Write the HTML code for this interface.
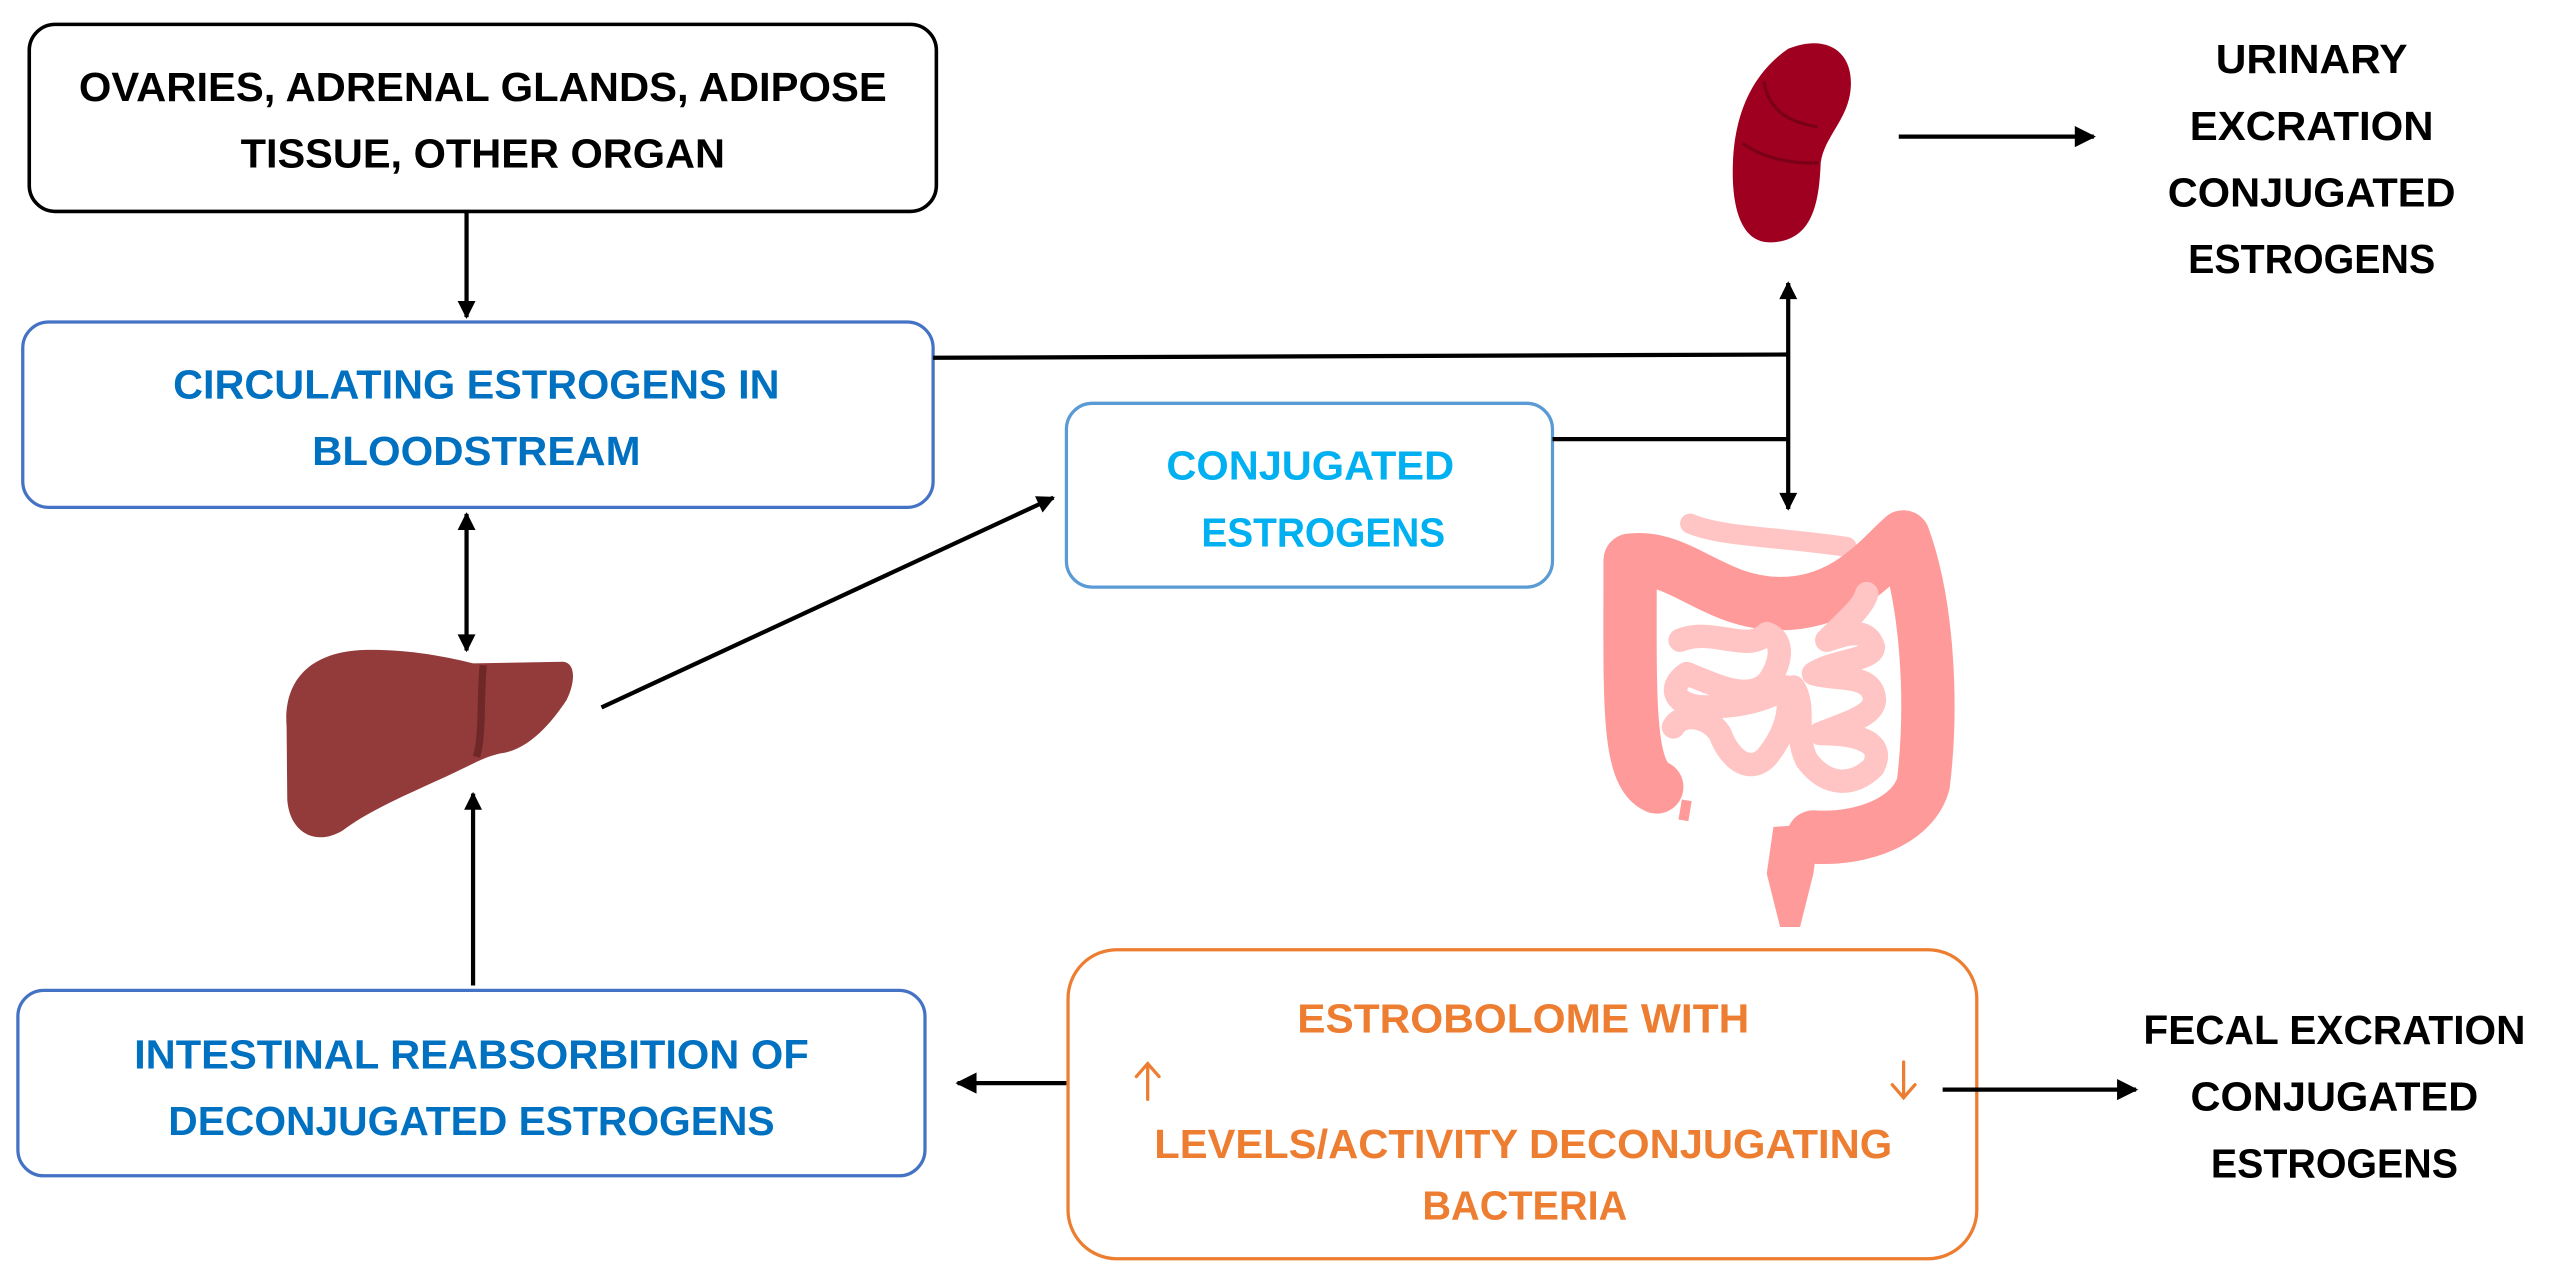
<!DOCTYPE html>
<html><head><meta charset="utf-8"><style>
html,body{margin:0;padding:0;background:#fff;}
svg{display:block;}
text{font-family:"Liberation Sans",sans-serif;font-weight:bold;font-size:25px;text-anchor:middle;}
</style></head><body>
<svg width="2549" height="1288" viewBox="0 0 1568 792" preserveAspectRatio="none" xmlns="http://www.w3.org/2000/svg">
<defs>
<marker id="ah" viewBox="0 0 10 10" refX="9" refY="5" markerWidth="12" markerHeight="11" markerUnits="userSpaceOnUse" orient="auto-start-reverse">
<path d="M0,0 L10,5 L0,10 Z" fill="#000"/></marker>
<marker id="ab" viewBox="0 0 10 10" refX="9" refY="5" markerWidth="15" markerHeight="13" markerUnits="userSpaceOnUse" orient="auto-start-reverse">
<path d="M0,0 L10,5 L0,10 Z" fill="#000"/></marker>
</defs>

<rect x="18" y="15" width="558" height="115" rx="16" fill="#fff" stroke="#000" stroke-width="2.2"/>
<text x="297" y="62" textLength="497" lengthAdjust="spacingAndGlyphs">OVARIES, ADRENAL GLANDS, ADIPOSE</text>
<text x="297" y="103" textLength="298" lengthAdjust="spacingAndGlyphs">TISSUE, OTHER ORGAN</text>

<rect x="14" y="198" width="560" height="114" rx="16" fill="#fff" stroke="#4472C4" stroke-width="2"/>
<text x="293" y="245" fill="#0070C0" textLength="373" lengthAdjust="spacingAndGlyphs">CIRCULATING ESTROGENS IN</text>
<text x="293" y="286" fill="#0070C0" textLength="202" lengthAdjust="spacingAndGlyphs">BLOODSTREAM</text>

<rect x="656" y="248" width="299" height="113" rx="16" fill="#fff" stroke="#5B9BD5" stroke-width="2"/>
<text x="806" y="295" fill="#00B0F0" textLength="177" lengthAdjust="spacingAndGlyphs">CONJUGATED</text>
<text x="814" y="336" fill="#00B0F0" textLength="150" lengthAdjust="spacingAndGlyphs">ESTROGENS</text>

<rect x="11" y="609" width="558" height="114" rx="16" fill="#fff" stroke="#4472C4" stroke-width="2"/>
<text x="290" y="657" fill="#0070C0" textLength="415" lengthAdjust="spacingAndGlyphs">INTESTINAL REABSORBITION OF</text>
<text x="290" y="698" fill="#0070C0" textLength="373" lengthAdjust="spacingAndGlyphs">DECONJUGATED ESTROGENS</text>

<rect x="657" y="584" width="559" height="190" rx="30" fill="#fff" stroke="#ED7D31" stroke-width="2"/>
<text x="937" y="635" fill="#ED7D31" textLength="278" lengthAdjust="spacingAndGlyphs">ESTROBOLOME WITH</text>
<text x="937" y="712" fill="#ED7D31" textLength="454" lengthAdjust="spacingAndGlyphs">LEVELS/ACTIVITY DECONJUGATING</text>
<text x="938" y="750" fill="#ED7D31" textLength="126" lengthAdjust="spacingAndGlyphs">BACTERIA</text>
<g stroke="#ED7D31" stroke-width="2" fill="none" stroke-linecap="round">
<path d="M706,676 L706,654 M699,662 L706,654 L713,662"/>
<path d="M1171,653 L1171,675 M1164,667 L1171,675 L1178,667"/>
</g>

<text x="1422" y="45" textLength="118" lengthAdjust="spacingAndGlyphs">URINARY</text>
<text x="1422" y="86" textLength="150" lengthAdjust="spacingAndGlyphs">EXCRATION</text>
<text x="1422" y="127" textLength="177" lengthAdjust="spacingAndGlyphs">CONJUGATED</text>
<text x="1422" y="168" textLength="152" lengthAdjust="spacingAndGlyphs">ESTROGENS</text>
<text x="1436" y="642" textLength="235" lengthAdjust="spacingAndGlyphs">FECAL EXCRATION</text>
<text x="1436" y="683" textLength="177" lengthAdjust="spacingAndGlyphs">CONJUGATED</text>
<text x="1436" y="724" textLength="152" lengthAdjust="spacingAndGlyphs">ESTROGENS</text>

<g stroke="#000" stroke-width="2.6" fill="none">
<line x1="287" y1="130" x2="287" y2="195" marker-end="url(#ah)"/>
<line x1="287" y1="316" x2="287" y2="400" marker-start="url(#ah)" marker-end="url(#ah)"/>
<line x1="291" y1="606" x2="291" y2="488" marker-end="url(#ah)"/>
<line x1="370" y1="435" x2="648" y2="306" marker-end="url(#ah)"/>
<line x1="574" y1="220" x2="1100" y2="218"/>
<line x1="955" y1="270" x2="1100" y2="270"/>
<line x1="1100" y1="174" x2="1100" y2="313" marker-start="url(#ah)" marker-end="url(#ah)"/>
<line x1="1168" y1="84" x2="1288" y2="84" marker-end="url(#ab)"/>
<line x1="656" y1="666" x2="589" y2="666" marker-end="url(#ab)"/>
<line x1="1195" y1="670" x2="1314" y2="670" marker-end="url(#ab)"/>
</g>

<g transform="translate(123,369) scale(0.205)">
<path d="M260,380 C250,250 320,160 480,150 C620,145 740,170 820,190 L1090,185 C1130,190 1125,250 1100,300 C1060,360 990,450 900,460 C860,470 840,480 800,500 C680,560 520,620 430,690 C350,740 270,700 262,600 Z" fill="#933B3B"/>
<path d="M850,195 C840,300 850,400 830,470" stroke="#6F2828" stroke-width="22" fill="none"/>
</g>

<path d="M1100,30 C1125,20 1142,33 1138,58 C1135,75 1122,85 1120,100 C1119,125 1115,148 1090,149 C1070,150 1065,125 1066,100 C1067,70 1078,45 1100,30 Z" fill="#A00020"/>
<path d="M1085,50 C1088,68 1100,75 1118,78 M1072,88 C1085,98 1105,101 1119,100" stroke="#7A0018" stroke-width="2" fill="none"/>

<g transform="translate(972,307.6) scale(0.205)">
<path d="M330,70 C420,110 600,110 800,140" stroke="#FFC4C4" stroke-width="60" fill="none" stroke-linecap="round"/>
<path d="M230,860 C140,820 150,600 150,180 C300,160 400,310 600,310 C800,310 900,170 970,110 C1040,300 1060,600 1030,850 C1000,960 850,1020 700,1010" stroke="#FF9A9A" stroke-width="160" fill="none" stroke-linejoin="round" stroke-linecap="round"/>
<path d="M580,980 L720,970 L700,1120 L660,1280 L600,1280 L560,1120 Z" fill="#FF9A9A"/>
<path d="M320,900 L310,960" stroke="#FF9A9A" stroke-width="30"/>
<path d="M300,420 C400,380 500,460 560,400 C620,420 600,500 560,550 C500,600 420,560 320,520 C260,560 280,620 380,620 C480,620 560,600 620,560 C640,650 600,720 560,770 C500,830 440,760 420,700 C380,640 300,640 280,680 M640,560 C680,620 640,700 680,780 C740,860 820,860 880,800 C920,720 820,700 720,700 C820,660 900,640 880,580 C860,520 760,540 700,520 C760,480 880,480 880,440 C860,380 800,400 740,420 C800,360 850,320 860,280" stroke="#FFC4C4" stroke-width="70" fill="none" stroke-linecap="round" stroke-linejoin="round"/>
</g>
</svg>
</body></html>
